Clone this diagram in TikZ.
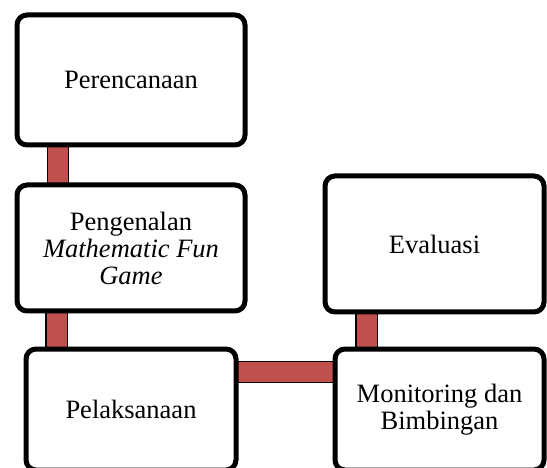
\documentclass[tikz,border=0pt]{standalone}
\usepackage{fontspec}
\setmainfont{Liberation Serif}
\definecolor{barred}{HTML}{C0504D}
\usetikzlibrary{positioning, backgrounds}

\begin{document}
\begin{tikzpicture}[x=1pt, y=-1pt,
  bx/.style={draw=black, line width=5pt, rounded corners=10pt, fill=white,
             align=center, outer sep=0pt, inner sep=4pt,
             font=\fontsize{26.5}{27}\selectfont},
  bar/.style={line width=1.2pt, draw=black, double=barred, double distance=20pt},
]
\useasboundingbox (0,0) rectangle (547,468);
\clip (0,0) rectangle (547,468);

% Left column
\node[bx, minimum width=228pt, minimum height=130pt] (plan) at (131,80) {Perencanaan};
\node[bx, minimum width=228pt, minimum height=126pt] (intro) at (131,248) {Pengenalan\\\textit{Mathematic Fun}\\\textit{Game}};
\node[bx, minimum width=210pt, minimum height=121pt] (run) at (131,409.5) {Pelaksanaan};

% Right column
\node[bx, minimum width=219pt, minimum height=136pt] (eval) at (434.5,244) {Evaluasi};
\node[bx, minimum width=209pt, minimum height=121pt] (monit) at (439.5,409.5) {Monitoring dan\\Bimbingan};

% Bars
\begin{scope}[on background layer]
\draw[bar] ([xshift=41pt]plan.south west) -- ([xshift=41pt]intro.north west);
\draw[bar] ([xshift=39.5pt]intro.south west) -- ([xshift=30.5pt]run.north west);
\draw[bar] ([yshift=-23pt]run.north east) -- ([yshift=-23pt]monit.north west);
\draw[bar] ([xshift=41.5pt]eval.south west) -- ([xshift=31.5pt]monit.north west);
\end{scope}

\end{tikzpicture}
\end{document}
